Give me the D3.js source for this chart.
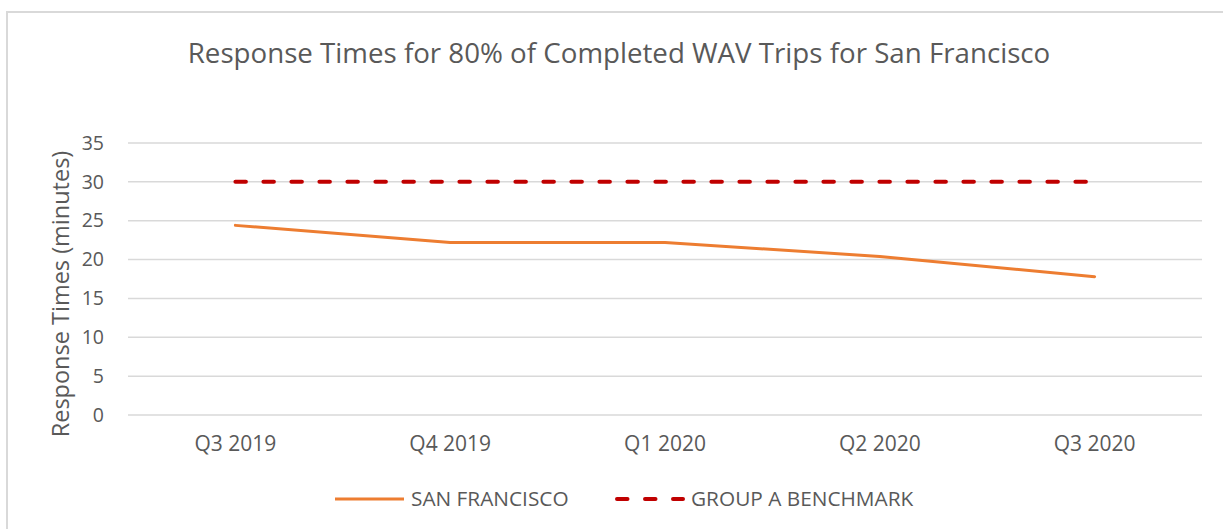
<!DOCTYPE html>
<html>
<head>
<meta charset="utf-8">
<script src="https://cdn.jsdelivr.net/npm/d3@7"></script>
<style>
  body { margin: 0; background: #fff; }
  text { font-family: "Open Sans", "Noto Sans", sans-serif; fill: #595959; }
</style>
</head>
<body>
<script>
var quarters = ["Q3 2019", "Q4 2019", "Q1 2020", "Q2 2020", "Q3 2020"];
var sanFrancisco = [24.4, 22.2, 22.2, 20.4, 17.8];
var benchmark = [30, 30, 30, 30, 30];
var yTicks = [0, 5, 10, 15, 20, 25, 30, 35];

var W = 1223, H = 529;
var margin = {top: 143, right: 21, bottom: 114, left: 128},
    width = W - margin.left - margin.right,
    height = H - margin.top - margin.bottom;

var svgRoot = d3.select("body").append("svg")
    .attr("width", W)
    .attr("height", H);

// chart frame
svgRoot.append("rect")
    .attr("x", 7).attr("y", 12)
    .attr("width", W + 10).attr("height", H + 10)
    .attr("fill", "none")
    .attr("stroke", "#d9d9d9")
    .attr("stroke-width", 2);

var svg = svgRoot.append("g")
    .attr("transform", "translate(" + margin.left + "," + margin.top + ")");

var x = d3.scaleBand()
    .domain(quarters)
    .range([0, width]);

var y = d3.scaleLinear()
    .domain([0, 35])
    .range([height, 0]);

// gridlines
svg.selectAll(".grid")
    .data(yTicks)
  .enter().append("line")
    .attr("x1", 0).attr("x2", width)
    .attr("y1", function(d) { return y(d); })
    .attr("y2", function(d) { return y(d); })
    .attr("stroke", "#d9d9d9")
    .attr("stroke-width", 1.5);

// Y axis labels
var yAxis = svg.append("g")
    .call(d3.axisLeft(y).tickValues(yTicks).tickSize(0).tickPadding(24));
yAxis.select(".domain").remove();
yAxis.selectAll("text")
    .attr("font-size", 19.5)
    .style("font-family", "'Open Sans', sans-serif")
    .attr("fill", "#595959");

// X axis labels
var xAxis = svg.append("g")
    .attr("transform", "translate(0," + height + ")")
    .call(d3.axisBottom(x).tickSize(0).tickPadding(21));
xAxis.select(".domain").remove();
xAxis.selectAll("text")
    .attr("font-size", 21)
    .style("font-family", "'Open Sans', sans-serif")
    .attr("fill", "#595959");

var line = d3.line()
    .x(function(d, i) { return x(quarters[i]) + x.bandwidth() / 2; })
    .y(function(d) { return y(d); });

svg.append("path")
    .datum(sanFrancisco)
    .attr("d", line)
    .attr("fill", "none")
    .attr("stroke", "#ed7d31")
    .attr("stroke-width", 3)
    .attr("stroke-linecap", "round")
    .attr("stroke-linejoin", "round");

svg.append("path")
    .datum(benchmark)
    .attr("d", line)
    .attr("fill", "none")
    .attr("stroke", "#c00000")
    .attr("stroke-width", 4)
    .attr("stroke-dasharray", "10.5 17.5")
    .attr("stroke-linecap", "round");

// title
svgRoot.append("text")
    .attr("x", 619)
    .attr("y", 63)
    .attr("text-anchor", "middle")
    .attr("font-size", 27.7)
    .text("Response Times for 80% of Completed WAV Trips for San Francisco");

// y axis title
svgRoot.append("text")
    .attr("transform", "translate(69," + (margin.top + height / 2 + 15) + ") rotate(-90)")
    .attr("text-anchor", "middle")
    .attr("font-size", 23.5)
    .text("Response Times (minutes)");

// legend
var legend = svgRoot.append("g").attr("transform", "translate(0,499)");
legend.append("line")
    .attr("x1", 335).attr("x2", 404)
    .attr("stroke", "#ed7d31").attr("stroke-width", 3);
legend.append("text")
    .attr("x", 411).attr("dy", "0.35em")
    .attr("font-size", 20.8)
    .text("SAN FRANCISCO");
legend.append("line")
    .attr("x1", 617).attr("x2", 683)
    .attr("stroke", "#c00000").attr("stroke-width", 4)
    .attr("stroke-dasharray", "10.5 17.5")
    .attr("stroke-linecap", "round");
legend.append("text")
    .attr("x", 691).attr("dy", "0.35em")
    .attr("font-size", 20.8)
    .text("GROUP A BENCHMARK");
</script>
</body>
</html>
